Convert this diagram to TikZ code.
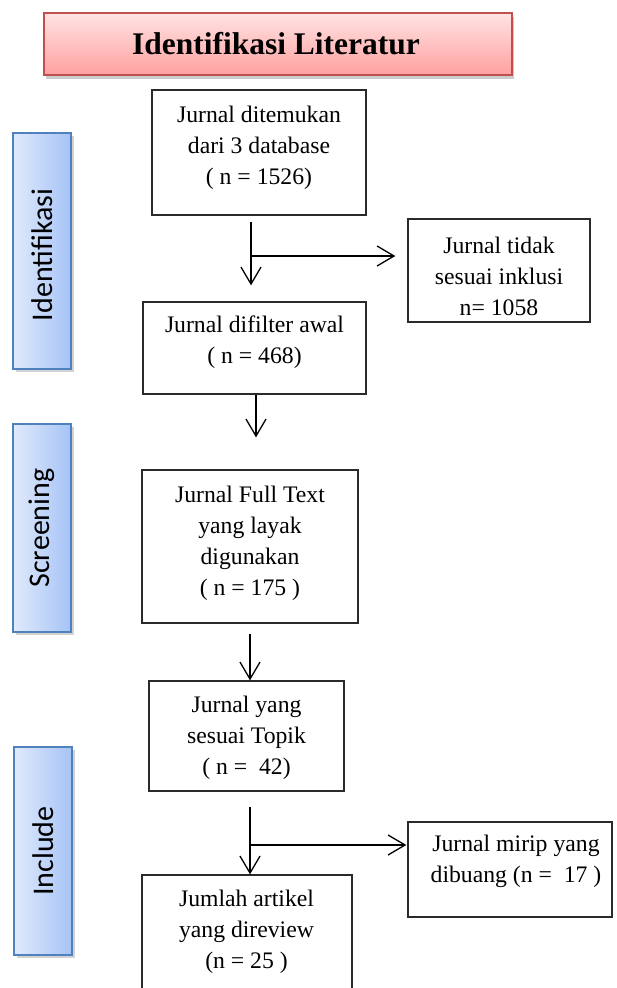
\documentclass[tikz,border=0pt]{standalone}
\usepackage{fontspec}
\setmainfont{Liberation Serif}
\newfontfamily\sidefont{Carlito}
\usetikzlibrary{arrows.meta,shadows}
\definecolor{titleborder}{HTML}{C0504D}
\definecolor{titletop}{HTML}{FFE3E3}
\definecolor{titlebot}{HTML}{FFA0A0}
\definecolor{sideborder}{HTML}{4F81BD}
\definecolor{sideleft}{HTML}{E0EAFC}
\definecolor{sideright}{HTML}{A6C3F6}
\definecolor{boxline}{HTML}{2A2A2A}
\tikzset{
  flowbox/.style={draw=boxline,line width=1.3pt,inner sep=0pt},
  bodytext/.style={align=center,font=\fontsize{23.7}{31}\selectfont,inner sep=0pt},
  sidebox/.style={draw=sideborder,line width=1.6pt,left color=sideleft,right color=sideright,
    drop shadow={shadow xshift=3pt,shadow yshift=-3pt,opacity=0.35}},
  sidetext/.style={font=\sidefont\fontsize{30}{36}\selectfont,rotate=90,inner sep=0pt},
  arr/.style={draw=black,line width=1.3pt,-{Straight Barb[length=17pt,width=20pt,line width=1.3pt]}},
  plain/.style={draw=black,line width=1.3pt}
}
\begin{document}
\begin{tikzpicture}[x=1pt,y=-1pt]
\clip (0,0) rectangle (617,988);
\fill[white] (0,0) rectangle (617,988);
% title
\node[draw=titleborder,line width=1.6pt,top color=titletop,bottom color=titlebot,
  minimum width=468pt,minimum height=62pt,
  drop shadow={shadow xshift=2pt,shadow yshift=-4pt,opacity=0.4}] (title) at (278,44) {};
\node[font=\bfseries\fontsize{31.5}{36}\selectfont,inner sep=0pt] (titletext) at (276,44) {Identifikasi Literatur};
% side boxes
\node[sidebox,minimum width=58pt,minimum height=236pt] (sid1) at (42,251) {};
\node[sidetext] (sidt1) at (42,255) {Identifikasi};
\node[sidebox,minimum width=58pt,minimum height=208pt] (sid2) at (42,528) {};
\node[sidetext] (sidt2) at (42,528) {Screening};
\node[sidebox,minimum width=58pt,minimum height=208pt] (sid3) at (43,851) {};
\node[sidetext] (sidt3) at (43,851) {Include};
% flow boxes
\node[flowbox,minimum width=214pt,minimum height=125pt] (b1) at (259,152.5) {};
\node[bodytext] (t1) at (259,147.5) {Jurnal ditemukan\\dari 3 database\\( n = 1526)};
\node[flowbox,minimum width=182pt,minimum height=103pt] (ex1) at (499,270.5) {};
\node[bodytext] (tx1) at (499,276) {Jurnal tidak\\sesuai inklusi\\n= 1058};
\node[flowbox,minimum width=223pt,minimum height=92pt] (b2) at (254.5,348) {};
\node[bodytext] (t2) at (254.5,342.5) {Jurnal difilter awal\\( n = 468)};
\node[flowbox,minimum width=216pt,minimum height=153pt] (b3) at (250,546.5) {};
\node[bodytext] (t3) at (250,543.5) {Jurnal Full Text\\yang layak\\digunakan\\( n = 175 )};
\node[flowbox,minimum width=195pt,minimum height=110pt] (b4) at (246.5,736) {};
\node[bodytext] (t4) at (246.5,737.5) {Jurnal yang\\sesuai Topik\\( n =\ \ 42)};
\node[flowbox,minimum width=204pt,minimum height=95pt] (ex2) at (510,869.5) {};
\node[bodytext] (tx2) at (516,861) {Jurnal mirip yang\\dibuang (n =\ \ 17 )};
\node[flowbox,minimum width=210pt,minimum height=140pt] (b5) at (247,945) {};
\node[bodytext] (t5) at (246.5,931.5) {Jumlah artikel\\yang direview\\(n = 25 )};
% connector columns
\coordinate (c1) at (251,0);
\coordinate (c2) at (256,0);
\coordinate (c3) at (250,0);
\coordinate (j1) at (251,256);
\coordinate (j2) at (250,845);
% connectors
\draw[arr,shorten <=6pt,shorten >=16pt] (b1.south -| c1) -- (b2.north -| c1);
\draw[arr,shorten >=12pt] (j1) -- (j1 -| ex1.west);
\draw[arr,shorten >=32pt] (b2.south -| c2) -- (b3.north -| c2);
\draw[arr,shorten <=10pt] (b3.south -| c3) -- (b4.north -| c3);
\draw[arr,shorten <=15pt] (b4.south -| c3) -- (b5.north -| c3);
\draw[arr,shorten >=1pt] (j2) -- (j2 -| ex2.west);
\end{tikzpicture}
\end{document}
